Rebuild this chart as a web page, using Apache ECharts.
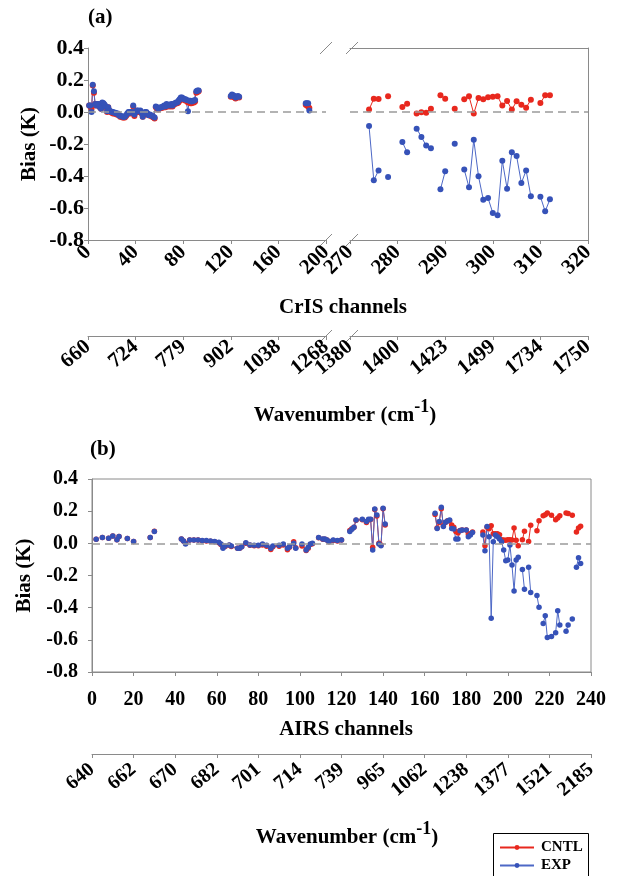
<!DOCTYPE html>
<html><head><meta charset="utf-8">
<script src="https://cdn.jsdelivr.net/npm/echarts@6/dist/echarts.min.js"></script>
<style>html,body{margin:0;padding:0;background:#fff}#c{width:617px;height:876px}</style>
</head><body><div id="c"></div>
<script>
// ---------------- DATA ----------------
// CrIS, left segment (channels 0-200). null = gap in the line
const crisLeftCh = [1,2,3,4,5,6,7,8,9,10,11,12,13,14,15,16,17,18,19,20,21,22,23,24,25,26,27,28,29,30,
  31,32,33,34,35,36,37,38,39,40,41,42,43,44,45,46,47,48,49,50,51,52,53,54,55,56,57,58,59,60,
  61,62,63,64,65,66,67,68,69,70,71,72,73,74,75,76,77,78,79,80,81,82,83,84,85,86,87,88,89,90,91,92,93,
  null,120,121,122,123,124,125,126,127,null,183,184,185,186];
const crisLeftExp = [0.04,0.04,0.0,0.17,0.13,0.05,0.04,0.05,0.05,0.03,
  0.02,0.06,0.055,0.045,0.035,0.005,0.03,0.01,0.005,0.0,
  0.0,-0.005,-0.005,-0.01,-0.01,-0.02,-0.025,-0.025,-0.03,-0.03,
  -0.03,-0.02,-0.01,0.0,0.0,-0.005,0.0,0.04,-0.015,0.0,
  0.01,0.01,0.005,0.01,-0.005,-0.03,-0.01,0.0,0.0,-0.01,
  -0.02,-0.015,-0.02,-0.025,-0.03,-0.035,0.035,0.03,0.02,0.025,
  0.03,0.03,0.035,0.04,0.035,0.05,0.04,0.045,0.04,0.05,
  0.04,0.05,0.055,0.06,0.06,0.07,0.08,0.09,0.09,0.085,
  0.08,0.08,0.075,0.005,0.07,0.07,0.065,0.07,0.07,0.075,
  0.13,0.135,0.135,
  null,0.10,0.11,0.105,0.10,0.09,0.095,0.10,0.095,null,0.055,0.055,0.055,0.01];
const crisLeftCntl = [0.04,0.035,0.02,0.165,0.12,0.05,0.04,0.05,0.045,0.03,
  0.02,0.055,0.05,0.04,0.03,0.0,0.03,0.005,0.0,-0.005,
  -0.01,-0.01,-0.01,-0.015,-0.015,-0.02,-0.03,-0.03,-0.035,-0.035,
  -0.035,-0.025,-0.015,-0.005,-0.005,-0.01,-0.005,0.035,-0.025,-0.005,
  0.005,0.0,0.0,0.005,-0.01,-0.03,-0.015,-0.01,-0.005,-0.015,
  -0.02,-0.02,-0.025,-0.03,-0.035,-0.04,0.03,0.025,0.015,0.02,
  0.025,0.025,0.03,0.03,0.03,0.04,0.035,0.04,0.035,0.04,
  0.035,0.045,0.05,0.055,0.055,0.06,0.07,0.08,0.08,0.08,
  0.075,0.07,0.07,0.06,0.065,0.055,0.055,0.06,0.06,0.065,
  0.12,0.125,0.13,
  null,0.095,0.10,0.095,0.09,0.085,0.09,0.095,0.09,null,0.045,0.04,0.035,0.025];

// CrIS, right segment (channels 270-320)
const crisRightCh = [274,275,276,null,278,null,281,282,null,284,285,286,287,null,289,290,null,292,null,
  294,295,296,297,298,299,300,301,302,303,304,305,306,307,308,null,310,311,312];
const crisRightExp = [-0.088,-0.427,-0.365,null,-0.406,null,-0.188,-0.252,null,-0.104,-0.156,-0.21,-0.227,null,-0.483,-0.371,null,-0.198,null,
  -0.36,-0.471,-0.173,-0.402,-0.548,-0.538,-0.631,-0.646,-0.304,-0.479,-0.252,-0.275,-0.444,-0.365,-0.527,null,-0.529,-0.621,-0.546];
const crisRightCntl = [0.015,0.083,0.081,null,0.098,null,0.031,0.052,null,-0.01,-0.002,-0.004,0.021,null,0.104,0.083,null,0.021,null,
  0.079,0.098,-0.01,0.088,0.079,0.092,0.096,0.098,0.04,0.069,0.015,0.067,0.046,0.027,0.077,null,0.056,0.104,0.104];

// AIRS (channels 0-240)
const airsCh = [2,null,5,null,8,null,10,null,12,null,13,null,17,null,20,null,28,null,30,null,
  43,44,45,47,49,51,53,55,57,59,61,62,63,64,66,67,70,71,72,74,76,78,80,82,84,86,87,90,92,94,95,97,98,null,
  101,103,104,105,106,null,
  109,111,112,113,114,116,118,120,null,
  124,125,126,127,130,132,133,134,135,136,137,138,139,140,141,null,
  165,166,167,168,169,170,171,172,173,174,175,176,177,178,180,181,182,183,null,
  188,189,190,191,192,193,194,195,196,197,198,199,200,201,202,203,204,205,null,
  207,208,null,210,211,null,214,215,null,217,218,219,221,223,224,225,null,228,229,null,231,null,233,234,235];
const airsExp = [0.025,null,0.037,null,0.032,null,0.045,null,0.022,null,0.043,null,0.03,null,0.012,null,0.037,null,0.074,null,
  0.027,0.015,-0.004,0.021,0.021,0.021,0.017,0.017,0.015,0.011,0.006,-0.004,-0.031,-0.017,-0.01,-0.017,-0.031,-0.031,-0.021,0.004,
  -0.01,-0.012,-0.012,-0.004,-0.012,-0.031,-0.017,-0.012,-0.004,-0.031,-0.021,0.0,-0.031,null,
  -0.004,-0.041,-0.025,-0.004,0.0,null,
  0.037,0.027,0.027,0.021,0.012,0.021,0.017,0.021,null,
  0.073,0.087,0.1,0.145,0.149,0.135,0.149,0.149,-0.041,0.214,0.176,-0.004,-0.015,0.218,0.12,null,
  0.187,0.093,0.135,0.224,0.104,0.131,0.139,0.145,0.093,0.089,0.027,0.027,0.079,0.083,0.083,0.041,0.052,0.068,null,
  0.052,-0.046,0.104,0.041,-0.466,0.01,0.052,0.041,0.027,0.01,-0.041,-0.108,-0.104,-0.01,-0.135,-0.296,-0.104,-0.087,null,
  -0.162,-0.286,null,-0.149,-0.305,null,-0.325,-0.398,null,-0.498,-0.45,-0.585,-0.58,-0.556,-0.419,-0.508,null,-0.547,-0.508,null,-0.47,null,-0.149,-0.089,-0.126];
const airsCntl = [0.025,null,0.037,null,0.032,null,0.045,null,0.022,null,0.043,null,0.03,null,0.012,null,0.037,null,0.075,null,
  0.027,0.015,0.0,0.02,0.02,0.02,0.016,0.015,0.013,0.01,0.004,-0.008,-0.025,-0.02,-0.012,-0.02,-0.03,-0.03,-0.022,0.0,
  -0.012,-0.015,-0.015,-0.01,-0.018,-0.038,-0.022,-0.018,-0.01,-0.04,-0.025,0.01,-0.028,null,
  -0.017,-0.045,-0.03,-0.008,-0.002,null,
  0.035,0.025,0.025,0.02,0.01,0.018,0.015,0.02,null,
  0.08,0.09,0.1,0.143,0.147,0.13,0.145,0.148,-0.025,0.21,0.17,0.0,-0.01,0.215,0.114,null,
  0.18,0.095,0.13,0.215,0.11,0.13,0.14,0.14,0.114,0.1,0.073,0.065,0.08,0.083,0.083,0.058,0.06,0.07,null,
  0.07,-0.015,0.10,0.09,0.11,0.06,0.06,0.06,0.054,0.023,0.02,0.019,0.023,0.023,0.02,0.095,0.019,-0.015,null,
  0.023,0.075,null,0.012,0.112,null,0.079,0.141,null,0.172,0.178,0.189,0.174,0.147,0.158,0.172,null,0.189,0.185,null,0.174,null,0.07,0.095,0.106];

// Tick labels of the wavenumber axes
const crisWaveLeft = ['660','724','779','902','1038','1268'];
const crisWaveRight = ['1380','1400','1423','1499','1734','1750'];
const airsWave = ['640','662','670','682','701','714','739','965','1062','1238','1377','1521','2185'];

// ---------------- CHART ----------------
const FONT = '"Liberation Serif", "Times New Roman", serif';
const GRAY = '#8a8a8a';
const RED = '#e8281e', BLUE = '#3652b8', BLUE_LINE = '#4d68c6';

function pts(ch, vals) {
  return ch.map((c, i) => (c === null || vals[i] === null) ? '-' : [c, vals[i]]);
}
const lbl = (size, extra) => Object.assign({fontFamily: FONT, fontWeight: 'bold', fontSize: size, color: '#000'}, extra || {});
const aLine = {show: true, onZero: false, lineStyle: {color: GRAY, width: 1}};
const aTick = {show: true, length: 4, lineStyle: {color: GRAY}};
const zeroLine = {silent: true, symbol: ['none', 'none'], label: {show: false}, animation: false,
  lineStyle: {color: '#9a9a9a', type: [8, 5], width: 1.5}, data: [{yAxis: 0}]};

function yAx(grid, opts) {
  return Object.assign({type: 'value', gridIndex: grid, min: -0.8, max: 0.4, interval: 0.2,
    axisLine: aLine, axisTick: aTick, splitLine: {show: false}}, opts);
}
function line(name, xi, yi, data, color, lineColor, size, withZero) {
  const s = {type: 'line', name: name, xAxisIndex: xi, yAxisIndex: yi, data: data,
    symbol: 'circle', symbolSize: size, connectNulls: false, animation: false,
    lineStyle: {width: 1, color: lineColor}, itemStyle: {color: color},
    emphasis: {disabled: true}};
  if (withZero) s.markLine = zeroLine;
  return s;
}

const chart = echarts.init(document.getElementById('c'), null, {renderer: 'canvas'});
const fmt = v => v.toFixed(1);

chart.setOption({
  animation: false,
  backgroundColor: '#fff',
  textStyle: {fontFamily: FONT},
  grid: [
    {left: 88, top: 48, width: 238, height: 192},
    {left: 350, top: 48, width: 238, height: 192},
    {left: 92, top: 479, width: 499, height: 193, show: true, borderColor: GRAY, borderWidth: 1}
  ],
  xAxis: [
    {type: 'value', gridIndex: 0, min: 0, max: 200, interval: 40, axisLine: aLine, axisTick: aTick,
      splitLine: {show: false}, axisLabel: lbl(21, {rotate: 45, margin: 9, showMinLabel: true, showMaxLabel: true})},
    {type: 'value', gridIndex: 1, min: 270, max: 320, interval: 10, axisLine: aLine, axisTick: aTick,
      splitLine: {show: false}, axisLabel: lbl(21, {rotate: 45, margin: 9, showMinLabel: true, showMaxLabel: true})},
    {type: 'category', gridIndex: 0, data: crisWaveLeft, boundaryGap: false, position: 'bottom', offset: 96,
      axisLine: aLine, axisTick: Object.assign({interval: 0}, aTick), axisLabel: lbl(21, {rotate: 40, margin: 8, interval: 0})},
    {type: 'category', gridIndex: 1, data: crisWaveRight, boundaryGap: false, position: 'bottom', offset: 96,
      axisLine: aLine, axisTick: Object.assign({interval: 0}, aTick), axisLabel: lbl(21, {rotate: 40, margin: 8, interval: 0})},
    {type: 'value', gridIndex: 1, position: 'top', min: 270, max: 320, axisLine: aLine,
      axisTick: {show: false}, axisLabel: {show: false}, splitLine: {show: false}},
    {type: 'value', gridIndex: 2, min: 0, max: 240, interval: 20, axisLine: aLine, axisTick: aTick,
      splitLine: {show: false}, axisLabel: lbl(20, {margin: 18, showMinLabel: true, showMaxLabel: true})},
    {type: 'category', gridIndex: 2, data: airsWave, boundaryGap: false, position: 'bottom', offset: 82,
      axisLine: aLine, axisTick: Object.assign({interval: 0}, aTick), axisLabel: lbl(20, {rotate: 40, margin: 13, interval: 0})}
  ],
  yAxis: [
    yAx(0, {axisLabel: lbl(22, {formatter: fmt, margin: 4}), name: 'Bias (K)', nameLocation: 'middle',
      nameGap: 48, nameRotate: 90, nameTextStyle: lbl(21)}),
    yAx(1, {position: 'right', axisTick: {show: false}, axisLabel: {show: false}}),
    yAx(2, {axisLabel: lbl(20, {formatter: fmt, margin: 14}), name: 'Bias (K)', nameLocation: 'middle',
      nameGap: 51, nameRotate: 90, nameTextStyle: lbl(21)})
  ],
  legend: {data: ['CNTL', 'EXP'], orient: 'vertical', left: 499, top: 840, itemWidth: 34, itemHeight: 6,
    itemGap: 3, padding: 0, selectedMode: false, textStyle: lbl(15, {padding: [0, 0, 0, 2]})},
  series: [
    line('CNTL', 0, 0, pts(crisLeftCh, crisLeftCntl), RED, RED, 6, true),
    line('EXP', 0, 0, pts(crisLeftCh, crisLeftExp), BLUE, BLUE_LINE, 6, false),
    line('CNTL', 1, 1, pts(crisRightCh, crisRightCntl), RED, RED, 6, true),
    line('EXP', 1, 1, pts(crisRightCh, crisRightExp), BLUE, BLUE_LINE, 6, false),
    line('CNTL', 5, 2, pts(airsCh, airsCntl), RED, RED, 5.5, true),
    line('EXP', 5, 2, pts(airsCh, airsExp), BLUE, BLUE_LINE, 5.5, false)
  ]
});

// decorations: axis-break slashes, legend frame and titles
const xBrkL = chart.convertToPixel({xAxisIndex: 0}, 200);
const xBrkR = chart.convertToPixel({xAxisIndex: 1}, 270);
const yTop = chart.convertToPixel({yAxisIndex: 0}, 0.4);
const yBot = chart.convertToPixel({yAxisIndex: 0}, -0.8);
const slash = (x, y) => ({type: 'line', shape: {x1: x - 6, y1: y + 6, x2: x + 6, y2: y - 6},
  style: {stroke: GRAY, lineWidth: 1}});
const txt = (x, y, text, size, align) => ({type: 'text', x: x, y: y,
  style: {text: text, font: 'bold ' + size + 'px ' + FONT, fill: '#000', textAlign: align || 'center', textVerticalAlign: 'middle'}});
const waveTitle = (x, y) => ({type: 'text', x: x, y: y, style: {
  text: '{m|Wavenumber (cm}{s|-1}{m|)}', textAlign: 'center', textVerticalAlign: 'middle', fill: '#000',
  rich: {m: {fontFamily: FONT, fontWeight: 'bold', fontSize: 21, lineHeight: 28, verticalAlign: 'bottom'},
         s: {fontFamily: FONT, fontWeight: 'bold', fontSize: 18, lineHeight: 18, verticalAlign: 'top'}}}});
const brkY = [yTop, yBot, yBot + 96];
const g = [];
brkY.forEach(y => { g.push(slash(xBrkL, y)); g.push(slash(xBrkR + 2, y)); });
g.push({type: 'rect', shape: {x: 493.5, y: 833.5, width: 95, height: 60}, style: {fill: 'none', stroke: '#000', lineWidth: 1}, z: 10});
g.push(txt(88, 18, '(a)', 21, 'left'));
g.push(txt(90, 450, '(b)', 21, 'left'));
g.push(txt(343, 308, 'CrIS channels', 21));
g.push(waveTitle(345, 412));
g.push(txt(346, 730, 'AIRS channels', 21));
g.push(waveTitle(347, 834));
chart.setOption({graphic: g});
</script></body></html>
